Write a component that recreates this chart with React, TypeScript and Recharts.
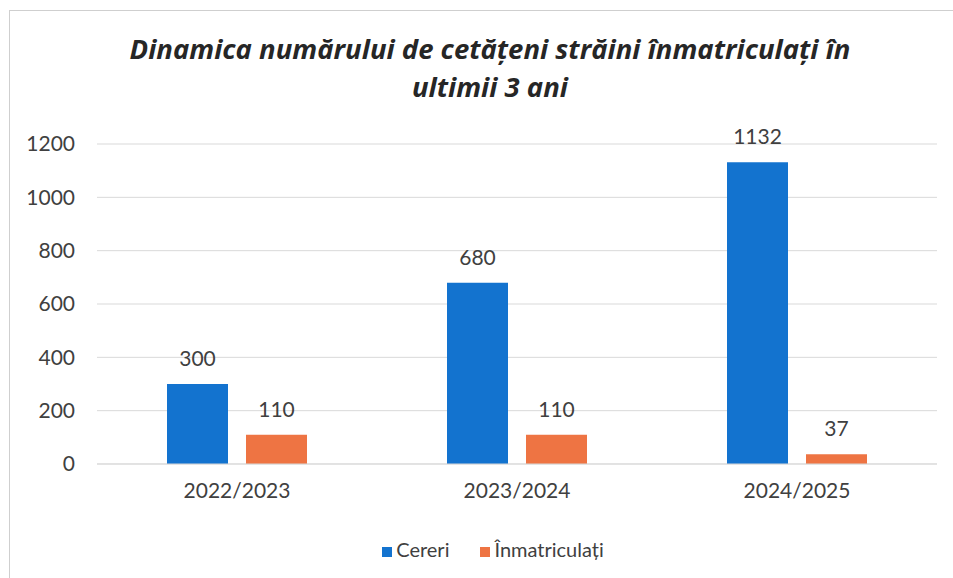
import { BarChart, Bar, XAxis, YAxis, CartesianGrid, Legend, LabelList } from 'recharts';

const seasons = ['2022/2023', '2023/2024', '2024/2025'];
const cereri = [300, 680, 1132];
const inmatriculati = [110, 110, 37];
const yTicks = [0, 200, 400, 600, 800, 1000, 1200];

const FONT = 'Lato, "Open Sans", sans-serif';
const TEXT = '#404040';

const data = seasons.map((season, i) => ({
  season,
  cereri: cereri[i],
  inmatriculati: inmatriculati[i],
}));

export default function App() {
  return (
    <div
      style={{
        position: 'absolute',
        left: 0,
        top: 0,
        width: 953,
        height: 578,
        background: '#fff',
        overflow: 'hidden',
        fontFamily: FONT,
      }}
    >
      <div
        style={{
          position: 'absolute',
          left: 9,
          top: 10,
          width: 1000,
          height: 600,
          border: '1px solid #cfcfcf',
        }}
      />
      <div
        style={{
          position: 'absolute',
          left: 0,
          top: 30,
          width: 980,
          textAlign: 'center',
          fontFamily: '"Open Sans", sans-serif',
          fontSize: 27.5,
          fontWeight: 700,
          fontStyle: 'italic',
          color: '#262626',
          lineHeight: '38px',
        }}
      >
        Dinamica numărului de cetățeni străini înmatriculați în
        <br />
        ultimii 3 ani
      </div>
      <BarChart
        width={953}
        height={578}
        data={data}
        margin={{ top: 144, right: 16, bottom: 34, left: 0 }}
        barCategoryGap="25%"
        barGap={18}
      >
        <CartesianGrid vertical={false} stroke="#d9d9d9" />
        <XAxis
          dataKey="season"
          axisLine={{ stroke: '#d9d9d9' }}
          tickLine={false}
          tickMargin={13}
          height={56}
          tick={{ fill: TEXT, fontSize: 21, fontFamily: FONT }}
        />
        <YAxis
          width={97}
          domain={[0, 1200]}
          ticks={yTicks}
          axisLine={false}
          tickLine={false}
          tickMargin={16}
          tick={{ fill: TEXT, fontSize: 21, fontFamily: FONT }}
        />
        <Legend
          verticalAlign="bottom"
          iconType="square"
          iconSize={10}
          wrapperStyle={{ top: 537, left: 8, width: 980, fontSize: 20, fontFamily: FONT }}
          formatter={(value, _entry, index) => (
            <span style={{ color: TEXT, marginRight: index === 0 ? 21 : 0 }}>{value}</span>
          )}
        />
        <Bar dataKey="cereri" name="Cereri" fill="#1373cf" isAnimationActive={false}>
          <LabelList dataKey="cereri" position="top" offset={18} fill={TEXT} fontSize={21} fontFamily={FONT} />
        </Bar>
        <Bar dataKey="inmatriculati" name="Înmatriculați" fill="#ee7443" isAnimationActive={false}>
          <LabelList dataKey="inmatriculati" position="top" offset={18} fill={TEXT} fontSize={21} fontFamily={FONT} />
        </Bar>
      </BarChart>
    </div>
  );
}
